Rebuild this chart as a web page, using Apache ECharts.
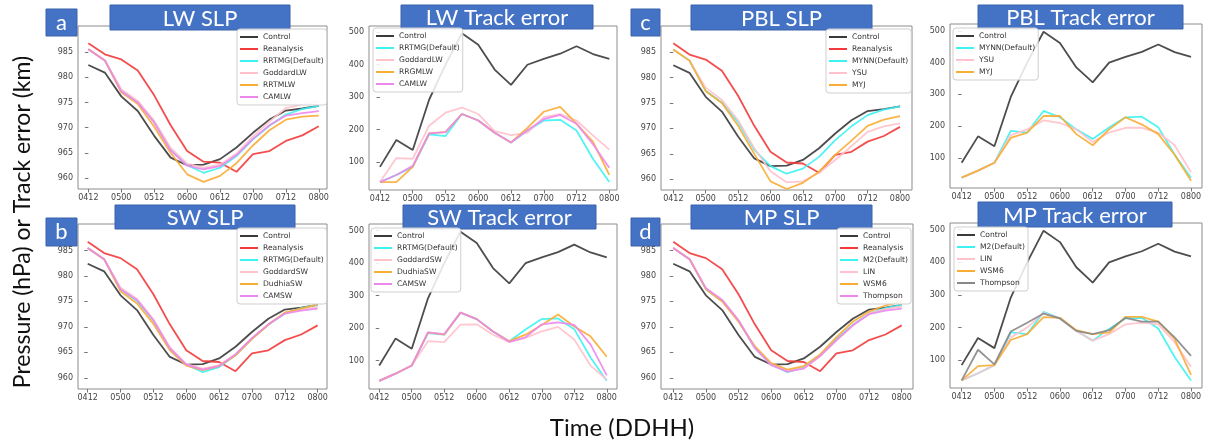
<!DOCTYPE html>
<html><head><meta charset="utf-8">
<script src="https://cdn.jsdelivr.net/npm/echarts@6/dist/echarts.min.js"></script>
<style>html,body{margin:0;padding:0;background:#fff}#c{width:1205px;height:446px}</style>
</head><body><div id="c"></div>
<script>
// ---------- DATA ----------
const times = ['0412','0418','0500','0506','0512','0518','0600','0606','0612','0618','0700','0706','0712','0718','0800'];
const tickIdx = [0,2,4,6,8,10,12,14];
const slpTicks = [960,965,970,975,980,985];
const trackTicks = [100,200,300,400,500];

// Sea-level pressure (hPa)
const slpControl    = [982.4,980.9,976.2,973.3,968.4,964.1,962.6,962.7,963.8,966.1,969.0,971.6,973.4,973.8,974.3];
const slpReanalysis = [986.7,984.5,983.5,981.3,976.4,970.5,965.4,963.3,963.1,961.3,964.8,965.4,967.4,968.5,970.3];
const slpDefault    = [985.5,983.3,977.4,975.1,971.2,965.8,962.6,961.1,962.1,964.4,967.7,970.4,972.6,973.7,974.3];
const slpGoddardLW  = [985.5,983.3,977.6,975.3,971.4,966.0,962.9,962.1,962.7,964.9,968.3,971.2,973.9,974.6,975.2];
const slpRRTMLW     = [985.5,983.3,977.0,974.7,970.2,965.0,960.8,959.3,960.5,963.0,966.5,969.5,971.6,972.2,972.4];
const slpCAMLW      = [985.5,983.3,977.2,975.0,971.0,965.5,962.5,961.8,962.4,964.6,967.8,970.5,972.4,972.9,973.3];
const slpYSU        = [985.5,983.3,978.0,975.6,971.6,966.1,961.6,959.4,959.6,961.3,963.8,966.5,969.3,970.4,971.0];
const slpMYJ        = [985.5,983.3,977.3,975.0,970.5,965.0,959.6,958.1,959.3,961.5,964.8,967.6,970.5,971.7,972.4];
const slpGoddardSW  = [985.5,983.3,977.7,975.5,971.5,966.0,962.7,961.8,962.5,964.6,967.8,970.5,972.8,973.4,973.9];
const slpDudhiaSW   = [985.5,983.3,977.0,974.6,970.6,965.4,962.4,961.5,962.3,964.4,967.6,970.4,972.8,973.6,974.4];
const slpCAMSW      = [985.5,983.3,977.4,975.3,971.3,965.8,962.6,961.6,962.3,964.6,967.8,970.5,972.6,973.2,973.6];
const slpLIN        = [985.5,983.3,977.6,975.3,971.3,965.8,962.6,961.4,961.9,964.2,967.3,970.2,972.6,973.5,974.0];
const slpWSM6       = [985.5,983.3,977.4,975.0,971.0,966.2,962.9,961.6,962.3,964.6,968.0,971.0,973.0,974.2,975.0];
const slpThompson   = [985.5,983.3,977.6,975.3,971.3,965.9,962.5,961.2,961.8,964.3,967.4,970.3,972.5,973.2,973.6];

// Track error (km)
const trkControl    = [85,168,137,292,400,497,462,385,338,400,418,434,457,433,418];
const trkDefault    = [38,60,85,185,180,248,228,190,160,196,228,230,197,110,38];
const trkGoddardLW  = [38,112,110,212,252,268,248,195,183,190,238,248,228,182,138];
const trkRRGMLW     = [38,38,85,188,192,248,228,190,160,205,255,270,218,163,60];
const trkCAMLW      = [38,60,88,188,192,248,228,190,160,198,232,245,218,155,82];
const trkYSU        = [38,60,85,172,190,218,210,190,150,180,195,195,180,140,55];
const trkMYJ        = [38,60,85,163,180,232,232,175,140,190,228,205,175,110,28];
const trkGoddardSW  = [38,60,85,160,157,211,212,180,157,170,190,204,165,85,42];
const trkDudhiaSW   = [38,60,85,187,180,248,228,190,160,180,210,242,205,175,112];
const trkCAMSW      = [38,60,85,187,182,248,228,190,158,172,212,218,210,150,55];
const trkLIN        = [38,60,85,170,200,245,228,190,160,180,210,215,210,155,80];
const trkWSM6       = [38,82,85,162,180,232,230,192,180,185,233,233,218,165,55];
const trkThompson   = [38,132,87,188,215,243,228,190,180,192,230,218,218,170,113];

// ---------- STYLE ----------
const C = {black:'#3a3a3a', red:'#f23a3a', cyan:'#3ff2f2', pink:'#ffc2cc', orange:'#f8ad35', violet:'#ec88ec', gray:'#888888'};
const FONT = 'Lato, "Open Sans", sans-serif';

const panels = [
  {title:'LW SLP', letter:'a', grid:[78,26,249,163], xr:[-0.63,14.5], yr:[957.9,990.1], ticks:slpTicks,
   legend:[237,29], tb:[110,5,180,25], lb:[46,9,31,27],
   series:[['Control',slpControl,C.black],['Reanalysis',slpReanalysis,C.red],['RRTMG(Default)',slpDefault,C.cyan],['GoddardLW',slpGoddardLW,C.pink],['RRTMLW',slpRRTMLW,C.orange],['CAMLW',slpCAMLW,C.violet]]},
  {title:'LW Track error', grid:[369,26,248,164], xr:[-0.67,14.47], yr:[13.6,519.5], ticks:trackTicks,
   legend:[373,28], tb:[401,5,192,24],
   series:[['Control',trkControl,C.black],['RRTMG(Default)',trkDefault,C.cyan],['GoddardLW',trkGoddardLW,C.pink],['RRGMLW',trkRRGMLW,C.orange],['CAMLW',trkCAMLW,C.violet]]},
  {title:'PBL SLP', letter:'c', grid:[661,26,251,164], xr:[-0.76,14.74], yr:[957.9,990.1], ticks:slpTicks,
   legend:[826,29], tb:[691,5,181,25], lb:[631,9,29,27],
   series:[['Control',slpControl,C.black],['Reanalysis',slpReanalysis,C.red],['MYNN(Default)',slpDefault,C.cyan],['YSU',slpYSU,C.pink],['MYJ',slpMYJ,C.orange]]},
  {title:'PBL Track error', grid:[950,24,252,164], xr:[-0.71,14.67], yr:[5.5,521.5], ticks:trackTicks,
   legend:[953,28], tb:[978,5,205,24],
   series:[['Control',trkControl,C.black],['MYNN(Default)',trkDefault,C.cyan],['YSU',trkYSU,C.pink],['MYJ',trkMYJ,C.orange]]},
  {title:'SW SLP', letter:'b', grid:[78,224,249,165], xr:[-0.59,14.57], yr:[957.8,990.2], ticks:slpTicks,
   legend:[237,228], tb:[115,205,180,24], lb:[46,218,31,28],
   series:[['Control',slpControl,C.black],['Reanalysis',slpReanalysis,C.red],['RRTMG(Default)',slpDefault,C.cyan],['GoddardSW',slpGoddardSW,C.pink],['DudhiaSW',slpDudhiaSW,C.orange],['CAMSW',slpCAMSW,C.violet]]},
  {title:'SW Track error', grid:[369,224,248,165], xr:[-0.63,14.63], yr:[12.9,520.6], ticks:trackTicks,
   legend:[371,228], tb:[403,205,193,24],
   series:[['Control',trkControl,C.black],['RRTMG(Default)',trkDefault,C.cyan],['GoddardSW',trkGoddardSW,C.pink],['DudhiaSW',trkDudhiaSW,C.orange],['CAMSW',trkCAMSW,C.violet]]},
  {title:'MP SLP', letter:'d', grid:[661,224,252,165], xr:[-0.75,14.69], yr:[957.8,990.2], ticks:slpTicks,
   legend:[837,228], tb:[691,205,181,24], lb:[631,218,29,28],
   series:[['Control',slpControl,C.black],['Reanalysis',slpReanalysis,C.red],['M2(Default)',slpDefault,C.cyan],['LIN',slpLIN,C.pink],['WSM6',slpWSM6,C.orange],['Thompson',slpThompson,C.violet]]},
  {title:'MP Track error', grid:[950,223,252,165], xr:[-0.71,14.67], yr:[14.8,520.6], ticks:trackTicks,
   legend:[954,227], tb:[978,202,194,25],
   series:[['Control',trkControl,C.black],['M2(Default)',trkDefault,C.cyan],['LIN',trkLIN,C.pink],['WSM6',trkWSM6,C.orange],['Thompson',trkThompson,C.gray]]}
];

const grid=[], xAxis=[], yAxis=[], series=[], legend=[], graphic=[];
const axisLbl = {fontSize:8, color:'#444', fontFamily:'"DejaVu Sans", sans-serif'};
panels.forEach((p,k)=>{
  grid.push({left:p.grid[0], top:p.grid[1], width:p.grid[2], height:p.grid[3], show:true, borderColor:'#8c8c8c', borderWidth:1, backgroundColor:'transparent'});
  xAxis.push({type:'value', gridIndex:k, min:p.xr[0], max:p.xr[1],
    axisLine:{show:false}, splitLine:{show:false},
    axisTick:{show:true, customValues:tickIdx, length:3.5, lineStyle:{color:'#777'}},
    axisLabel:Object.assign({customValues:tickIdx, margin:5, formatter:v=>times[Math.round(v)]}, axisLbl)});
  yAxis.push({type:'value', gridIndex:k, min:p.yr[0], max:p.yr[1],
    axisLine:{show:false}, splitLine:{show:false},
    axisTick:{show:true, customValues:p.ticks, length:3.5, lineStyle:{color:'#777'}},
    axisLabel:Object.assign({customValues:p.ticks, margin:5}, axisLbl)});
  p.series.forEach(([name,arr,color])=>{
    series.push({type:'line', name, xAxisIndex:k, yAxisIndex:k, data:arr.map((v,i)=>[i,v]),
      showSymbol:false, symbol:'none', silent:true, animation:false, color,
      lineStyle:{width:1.8, color, opacity:0.9}});
  });
  legend.push({left:p.legend[0], top:p.legend[1], orient:'vertical', selectedMode:false,
    icon:'rect', itemWidth:18, itemHeight:2, itemGap:2,
    backgroundColor:'rgba(255,255,255,0.85)', borderColor:'#cfcfcf', borderWidth:1, borderRadius:3, padding:[3,3,3,3],
    textStyle:{fontSize:7.6, color:'#333', lineHeight:10, fontFamily:'"DejaVu Sans", sans-serif'},
    data:p.series.map(([name,arr,color])=>({name, itemStyle:{color}}))});
  const t=p.tb;
  graphic.push({type:'group', z:100, children:[
    {type:'rect', shape:{x:t[0],y:t[1],width:t[2],height:t[3]}, style:{fill:'#4472C4', stroke:'#3a62ad', lineWidth:1}},
    {type:'text', style:{text:p.title, x:t[0]+t[2]/2, y:t[1]+t[3]/2+1, align:'center', verticalAlign:'middle', fill:'#fff', fontSize:22, fontFamily:FONT}}
  ]});
  if(p.letter){
    const b=p.lb;
    graphic.push({type:'group', z:100, children:[
      {type:'rect', shape:{x:b[0],y:b[1],width:b[2],height:b[3]}, style:{fill:'#4472C4', stroke:'#3a62ad', lineWidth:1}},
      {type:'text', style:{text:p.letter, x:b[0]+b[2]/2, y:b[1]+b[3]/2, align:'center', verticalAlign:'middle', fill:'#fff', fontSize:22, fontFamily:FONT}}
    ]});
  }
});
graphic.push({type:'text', z:100, rotation:Math.PI/2, x:23, y:222, style:{text:'Pressure (hPa) or Track error (km)', align:'center', verticalAlign:'middle', fill:'#111', fontSize:23, fontFamily:FONT}});
graphic.push({type:'text', z:100, x:622, y:428, style:{text:'Time (DDHH)', align:'center', verticalAlign:'middle', fill:'#111', fontSize:24, fontFamily:FONT}});

const chart = echarts.init(document.getElementById('c'), null, {renderer:'canvas'});
chart.setOption({animation:false, backgroundColor:'#fff', grid, xAxis, yAxis, series, legend, graphic});
</script></body></html>
